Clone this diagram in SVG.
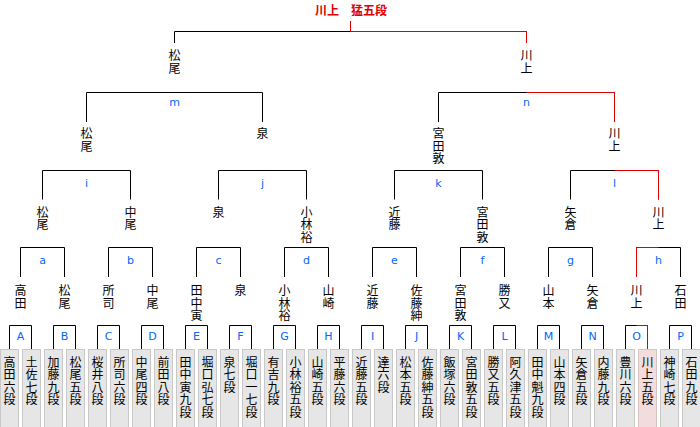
<svg xmlns="http://www.w3.org/2000/svg" width="700" height="427" viewBox="0 0 700 427">
<style>
.ln{fill:none;stroke:#000;stroke-width:1}
.rd{fill:none;stroke:#e00000;stroke-width:1}
.v{font-family:"Noto Sans CJK JP","Noto Sans CJK SC",sans-serif;font-size:12px;fill:#000;writing-mode:vertical-rl;text-orientation:upright;letter-spacing:0.5px}
.lb{font-family:"DejaVu Sans",sans-serif;font-size:11px;text-anchor:middle;fill:#0066ff}
.bx{fill:#e6e6e6;stroke:#c8c8c8;stroke-width:1}
.bxw{fill:#f2dcdc;stroke:#d9c2c2;stroke-width:1}
.ch{font-family:"Noto Sans CJK JP",sans-serif;font-size:12px;font-weight:bold;fill:#e00000}
</style>
<rect width="700" height="427" fill="#fff"/>
<g id="champion"><text class="ch" x="315" y="15">川上　猛五段</text></g>
<g id="connectors">
<path class="ln" d="M174.5 43V31.5H526.5V43"/>
<path class="ln" d="M86.5 122V92.5H262.5V122M438.5 122V92.5H614.5V122"/>
<path class="ln" d="M42.5 199.5V170.5H130.5V199.5M218.5 199.5V170.5H306.5V199.5M394.5 199.5V170.5H482.5V199.5M570.5 199.5V170.5H658.5V199.5"/>
<path class="ln" d="M20.5 277V247.5H64.5V277M108.5 277V247.5H152.5V277M196.5 277V247.5H240.5V277M284.5 277V247.5H328.5V277M372.5 277V247.5H416.5V277M460.5 277V247.5H504.5V277M548.5 277V247.5H592.5V277M636.5 277V247.5H680.5V277"/>
<path class="ln" d="M9.5 349.5V325.5H31.5V349.5M53.5 349.5V325.5H75.5V349.5M97.5 349.5V325.5H119.5V349.5M141.5 349.5V325.5H163.5V349.5M185.5 349.5V325.5H207.5V349.5M229.5 349.5V325.5H251.5V349.5M273.5 349.5V325.5H295.5V349.5M317.5 349.5V325.5H339.5V349.5M361.5 349.5V325.5H383.5V349.5M405.5 349.5V325.5H427.5V349.5M449.5 349.5V325.5H471.5V349.5M493.5 349.5V325.5H515.5V349.5M537.5 349.5V325.5H559.5V349.5M581.5 349.5V325.5H603.5V349.5M625.5 349.5V325.5H647.5V349.5M669.5 349.5V325.5H691.5V349.5"/>
<path class="rd" d="M350.5 21V31.5H526.5V43"/>
<path class="rd" d="M526.5 92.5H614.5V122"/>
<path class="rd" d="M614.5 170.5H658.5V199.5"/>
<path class="rd" d="M658.5 247.5H636.5V277"/>
<path class="rd" d="M636.5 325.5H647.5V349.5"/>
</g>
<g id="match-labels">
<text class="lb" x="174.5" y="106">m</text><text class="lb" x="526.5" y="106">n</text>
<text class="lb" x="86.5" y="186.5">i</text><text class="lb" x="262.5" y="186.5">j</text><text class="lb" x="438.5" y="186.5">k</text><text class="lb" x="614.5" y="186.5">l</text>
<text class="lb" x="42.5" y="264">a</text><text class="lb" x="130.5" y="264">b</text><text class="lb" x="218.5" y="264">c</text><text class="lb" x="306.5" y="264">d</text><text class="lb" x="394.5" y="264">e</text><text class="lb" x="482.5" y="264">f</text><text class="lb" x="570.5" y="264">g</text><text class="lb" x="658.5" y="264">h</text>
<text class="lb" x="20.5" y="339.5">A</text><text class="lb" x="64.5" y="339.5">B</text><text class="lb" x="108.5" y="339.5">C</text><text class="lb" x="152.5" y="339.5">D</text><text class="lb" x="196.5" y="339.5">E</text><text class="lb" x="240.5" y="339.5">F</text><text class="lb" x="284.5" y="339.5">G</text><text class="lb" x="328.5" y="339.5">H</text><text class="lb" x="372.5" y="339.5">I</text><text class="lb" x="416.5" y="339.5">J</text><text class="lb" x="460.5" y="339.5">K</text><text class="lb" x="504.5" y="339.5">L</text><text class="lb" x="548.5" y="339.5">M</text><text class="lb" x="592.5" y="339.5">N</text><text class="lb" x="636.5" y="339.5">O</text><text class="lb" x="680.5" y="339.5">P</text>
</g>
<g id="round4-winners">
<g id="w-final-l"><text class="v" x="174.5" y="49.7">松尾</text></g>
<g id="w-final-r"><text class="v" x="526.5" y="49.7">川上</text></g>
</g>
<g id="round3-winners">
<g id="w-m-l"><text class="v" x="86.5" y="127.7">松尾</text></g>
<g id="w-m-r"><text class="v" x="262.5" y="127.7">泉</text></g>
<g id="w-n-l"><text class="v" x="438.5" y="127.7">宮田敦</text></g>
<g id="w-n-r"><text class="v" x="614.5" y="127.7">川上</text></g>
</g>
<g id="round2-winners">
<g id="w-i-l"><text class="v" x="42.5" y="206.4">松尾</text></g>
<g id="w-i-r"><text class="v" x="130.5" y="206.4">中尾</text></g>
<g id="w-j-l"><text class="v" x="218.5" y="206.4">泉</text></g>
<g id="w-j-r"><text class="v" x="306.5" y="206.4">小林裕</text></g>
<g id="w-k-l"><text class="v" x="394.5" y="206.4">近藤</text></g>
<g id="w-k-r"><text class="v" x="482.5" y="206.4">宮田敦</text></g>
<g id="w-l-l"><text class="v" x="570.5" y="206.4">矢倉</text></g>
<g id="w-l-r"><text class="v" x="658.5" y="206.4">川上</text></g>
</g>
<g id="round1-winners">
<g id="w-a-l"><text class="v" x="20.5" y="284.7">高田</text></g>
<g id="w-a-r"><text class="v" x="64.5" y="284.7">松尾</text></g>
<g id="w-b-l"><text class="v" x="108.5" y="284.7">所司</text></g>
<g id="w-b-r"><text class="v" x="152.5" y="284.7">中尾</text></g>
<g id="w-c-l"><text class="v" x="196.5" y="284.7">田中寅</text></g>
<g id="w-c-r"><text class="v" x="240.5" y="284.7">泉</text></g>
<g id="w-d-l"><text class="v" x="284.5" y="284.7">小林裕</text></g>
<g id="w-d-r"><text class="v" x="328.5" y="284.7">山崎</text></g>
<g id="w-e-l"><text class="v" x="372.5" y="284.7">近藤</text></g>
<g id="w-e-r"><text class="v" x="416.5" y="284.7">佐藤紳</text></g>
<g id="w-f-l"><text class="v" x="460.5" y="284.7">宮田敦</text></g>
<g id="w-f-r"><text class="v" x="504.5" y="284.7">勝又</text></g>
<g id="w-g-l"><text class="v" x="548.5" y="284.7">山本</text></g>
<g id="w-g-r"><text class="v" x="592.5" y="284.7">矢倉</text></g>
<g id="w-h-l"><text class="v" x="636.5" y="284.7">川上</text></g>
<g id="w-h-r"><text class="v" x="680.5" y="284.7">石田</text></g>
</g>
<g id="players">
<g id="p01"><rect class="bx" x="0.5" y="349.5" width="18" height="80"/><text class="v" x="9.5" y="356.4">高田六段</text></g>
<g id="p02"><rect class="bx" x="22.5" y="349.5" width="18" height="80"/><text class="v" x="31.5" y="356.4">土佐七段</text></g>
<g id="p03"><rect class="bx" x="44.5" y="349.5" width="18" height="80"/><text class="v" x="53.5" y="356.4">加藤九段</text></g>
<g id="p04"><rect class="bx" x="66.5" y="349.5" width="18" height="80"/><text class="v" x="75.5" y="356.4">松尾五段</text></g>
<g id="p05"><rect class="bx" x="88.5" y="349.5" width="18" height="80"/><text class="v" x="97.5" y="356.4">桜井八段</text></g>
<g id="p06"><rect class="bx" x="110.5" y="349.5" width="18" height="80"/><text class="v" x="119.5" y="356.4">所司六段</text></g>
<g id="p07"><rect class="bx" x="132.5" y="349.5" width="18" height="80"/><text class="v" x="141.5" y="356.4">中尾四段</text></g>
<g id="p08"><rect class="bx" x="154.5" y="349.5" width="18" height="80"/><text class="v" x="163.5" y="356.4">前田八段</text></g>
<g id="p09"><rect class="bx" x="176.5" y="349.5" width="18" height="80"/><text class="v" x="185.5" y="356.4">田中寅九段</text></g>
<g id="p10"><rect class="bx" x="198.5" y="349.5" width="18" height="80"/><text class="v" x="207.5" y="356.4">堀口弘七段</text></g>
<g id="p11"><rect class="bx" x="220.5" y="349.5" width="18" height="80"/><text class="v" x="229.5" y="356.4">泉七段</text></g>
<g id="p12"><rect class="bx" x="242.5" y="349.5" width="18" height="80"/><text class="v" x="251.5" y="356.4">堀口一七段</text></g>
<g id="p13"><rect class="bx" x="264.5" y="349.5" width="18" height="80"/><text class="v" x="273.5" y="356.4">有吉九段</text></g>
<g id="p14"><rect class="bx" x="286.5" y="349.5" width="18" height="80"/><text class="v" x="295.5" y="356.4">小林裕五段</text></g>
<g id="p15"><rect class="bx" x="308.5" y="349.5" width="18" height="80"/><text class="v" x="317.5" y="356.4">山崎五段</text></g>
<g id="p16"><rect class="bx" x="330.5" y="349.5" width="18" height="80"/><text class="v" x="339.5" y="356.4">平藤六段</text></g>
<g id="p17"><rect class="bx" x="352.5" y="349.5" width="18" height="80"/><text class="v" x="361.5" y="356.4">近藤五段</text></g>
<g id="p18"><rect class="bx" x="374.5" y="349.5" width="18" height="80"/><text class="v" x="383.5" y="356.4">達六段</text></g>
<g id="p19"><rect class="bx" x="396.5" y="349.5" width="18" height="80"/><text class="v" x="405.5" y="356.4">松本五段</text></g>
<g id="p20"><rect class="bx" x="418.5" y="349.5" width="18" height="80"/><text class="v" x="427.5" y="356.4">佐藤紳五段</text></g>
<g id="p21"><rect class="bx" x="440.5" y="349.5" width="18" height="80"/><text class="v" x="449.5" y="356.4">飯塚六段</text></g>
<g id="p22"><rect class="bx" x="462.5" y="349.5" width="18" height="80"/><text class="v" x="471.5" y="356.4">宮田敦五段</text></g>
<g id="p23"><rect class="bx" x="484.5" y="349.5" width="18" height="80"/><text class="v" x="493.5" y="356.4">勝又五段</text></g>
<g id="p24"><rect class="bx" x="506.5" y="349.5" width="18" height="80"/><text class="v" x="515.5" y="356.4">阿久津五段</text></g>
<g id="p25"><rect class="bx" x="528.5" y="349.5" width="18" height="80"/><text class="v" x="537.5" y="356.4">田中魁九段</text></g>
<g id="p26"><rect class="bx" x="550.5" y="349.5" width="18" height="80"/><text class="v" x="559.5" y="356.4">山本四段</text></g>
<g id="p27"><rect class="bx" x="572.5" y="349.5" width="18" height="80"/><text class="v" x="581.5" y="356.4">矢倉五段</text></g>
<g id="p28"><rect class="bx" x="594.5" y="349.5" width="18" height="80"/><text class="v" x="603.5" y="356.4">内藤九段</text></g>
<g id="p29"><rect class="bx" x="616.5" y="349.5" width="18" height="80"/><text class="v" x="625.5" y="356.4">豊川六段</text></g>
<g id="p30"><rect class="bxw" x="638.5" y="349.5" width="18" height="80"/><text class="v" x="647.5" y="356.4">川上五段</text></g>
<g id="p31"><rect class="bx" x="660.5" y="349.5" width="18" height="80"/><text class="v" x="669.5" y="356.4">神崎七段</text></g>
<g id="p32"><rect class="bx" x="682.5" y="349.5" width="18" height="80"/><text class="v" x="691.5" y="356.4">石田九段</text></g>
</g>
</svg>
